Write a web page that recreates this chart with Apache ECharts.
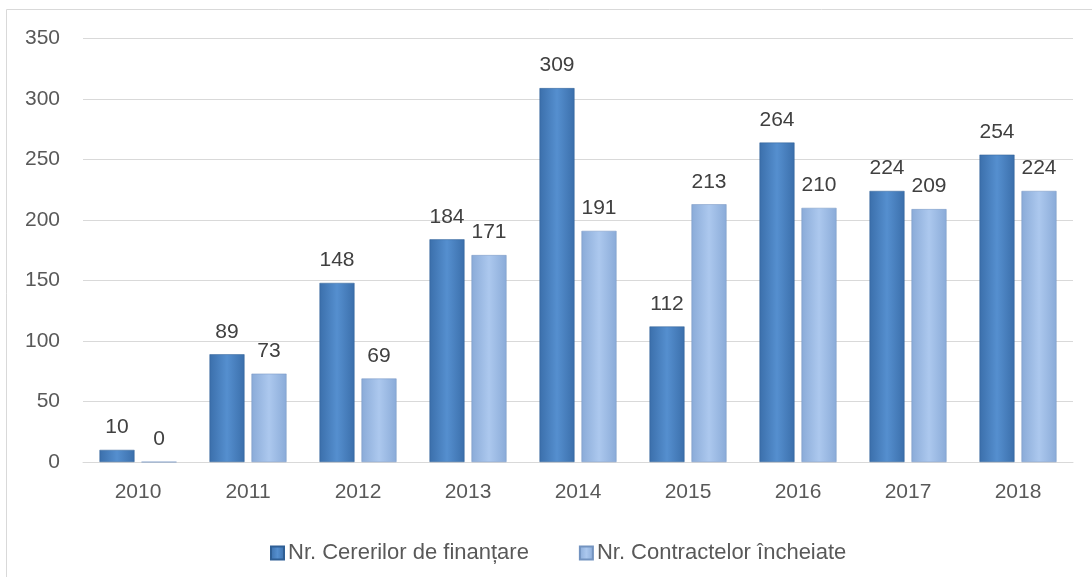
<!DOCTYPE html>
<html>
<head>
<meta charset="utf-8">
<script src="https://cdn.jsdelivr.net/npm/echarts@6/dist/echarts.min.js"></script>
<style>
html, body { margin: 0; padding: 0; background: #fff; }
#main { width: 1092px; height: 577px; }
</style>
</head>
<body>
<div id="main"></div>
<script>
var years = ['2010', '2011', '2012', '2013', '2014', '2015', '2016', '2017', '2018'];
var cereri = [10, 89, 148, 184, 309, 112, 264, 224, 254];
var contracte = [0, 73, 69, 171, 191, 213, 210, 209, 224];
var seriesNames = ['Nr. Cererilor de finanțare', 'Nr. Contractelor încheiate'];

var fontName = 'Liberation Sans';

function barGrad(edge, mid) {
    return new echarts.graphic.LinearGradient(0, 0, 1, 0, [
        { offset: 0, color: edge },
        { offset: 0.5, color: mid },
        { offset: 1, color: edge }
    ]);
}

var myChart = echarts.init(document.getElementById('main'));//获取容器

myChart.setOption({
    animation: false,
    textStyle: { fontFamily: fontName },
    graphic: [{
        type: 'rect',
        shape: { x: 6.5, y: 9.5, width: 1100, height: 600 },
        style: { fill: 'none', stroke: '#d9d9d9', lineWidth: 1 },
        silent: true
    }],
    grid: { left: 83, right: 19, top: 38.5, bottom: 115 },
    legend: {
        top: 537,
        left: 265,
        icon: 'rect',
        itemWidth: 13,
        itemHeight: 13,
        itemGap: 50,
        textStyle: { color: '#595959', fontSize: 22, fontFamily: fontName, padding: [0, 0, 0, -1] },
        data: seriesNames
    },
    xAxis: {
        type: 'category',
        data: years,
        axisLine: { lineStyle: { color: '#d9d9d9', width: 1 } },
        axisTick: { show: false },
        axisLabel: { color: '#595959', fontSize: 21, margin: 20 }
    },
    yAxis: {
        type: 'value',
        min: 0,
        max: 350,
        interval: 50,
        axisLine: { show: false },
        axisTick: { show: false },
        axisLabel: { color: '#595959', fontSize: 21, margin: 23 },
        splitLine: { lineStyle: { color: '#d9d9d9', width: 1 } }
    },
    series: [{
        name: seriesNames[0],
        type: 'bar',
        barWidth: 35,
        barGap: '20%',
        data: cereri,
        itemStyle: {
            color: barGrad('#3b6fab', '#558fcf'),
            borderColor: '#2f5f95',
            borderWidth: 0.5
        },
        label: { show: true, position: 'top', distance: 12, color: '#404040', fontSize: 21 }
    }, {
        name: seriesNames[1],
        type: 'bar',
        barWidth: 35,
        data: contracte,
        itemStyle: {
            color: barGrad('#8aabd8', '#acc8ee'),
            borderColor: '#7393c0',
            borderWidth: 0.5
        },
        label: { show: true, position: 'top', distance: 12, color: '#404040', fontSize: 21 }
    }]
});
</script>
</body>
</html>
